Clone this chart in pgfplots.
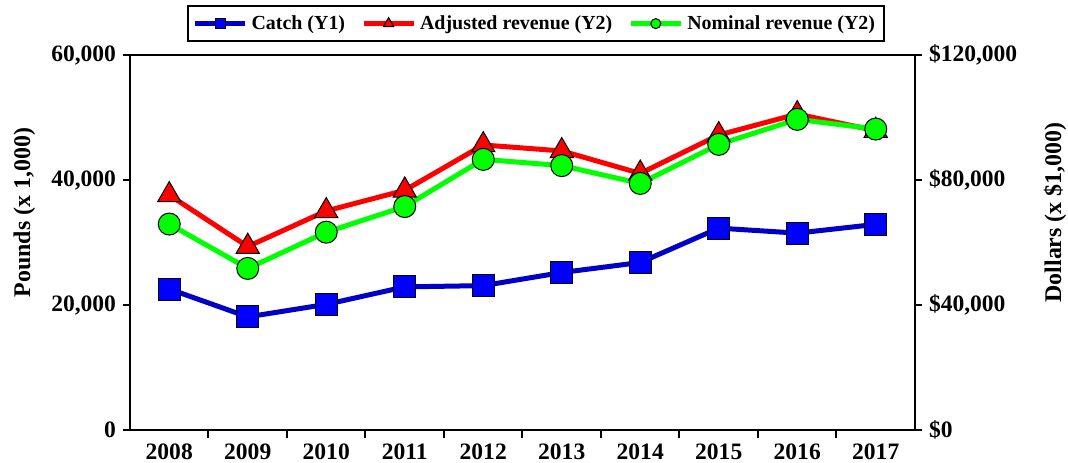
\documentclass[border=0pt]{standalone}
\usepackage{fontspec}
\setmainfont{Liberation Serif}
\usepackage{pgfplots}
\pgfplotsset{compat=1.18}
\definecolor{catchline}{RGB}{0,0,200}
\definecolor{catchfill}{RGB}{0,0,255}
\definecolor{adjred}{RGB}{255,0,0}
\definecolor{nomgreen}{RGB}{0,255,0}
\begin{document}
\begin{tikzpicture}
\path[use as bounding box] (-65bp,-16.5bp) rectangle (469bp,215bp);
\pgfplotsset{
  common/.style={
    width=392.5bp, height=187.5bp, scale only axis,
    xmin=-0.5, xmax=9.5,
    tick align=outside,
    axis line style={line width=1bp, black},
    every tick/.style={line width=1bp, black},
    scaled ticks=false,
    /pgf/number format/.cd, 1000 sep={,}, fixed, assume math mode=true,
    /pgfplots/.cd,
    ticklabel style={font=\bfseries\fontsize{11.8}{13}\selectfont},
    label style={font=\bfseries\fontsize{12}{14}\selectfont},
  },
  legend image code/.code={\draw[mark repeat=2,mark phase=2,#1] plot coordinates {(0bp,0bp)(12.5bp,0bp)(25bp,0bp)};},
}
\begin{axis}[common,
  ymin=0, ymax=60000,
  ytick={0,20000,40000,60000},
  ytick pos=left, xtick pos=bottom,
  xtick={0,...,9},
  xticklabels={2008,2009,2010,2011,2012,2013,2014,2015,2016,2017},
  major x tick style={draw=none},
  minor xtick={0.5,1.5,2.5,3.5,4.5,5.5,6.5,7.5,8.5},
  minor tick length=4bp,
  major tick length=3.5bp,
  ylabel={Pounds (x 1,000)},
  ylabel style={at={(rel axis cs:0,0.58)}, anchor=center, yshift=52.75bp},
  clip=false,
]
\addplot[catchline, line width=2.5bp, mark=square*, mark size=5.5bp,
  mark options={draw=black, fill=catchfill, line width=0.5bp, solid}]
  coordinates {(0,22560) (1,18100) (2,20100) (3,22900) (4,23100) (5,25200) (6,26800) (7,32300) (8,31500) (9,32900)};
\end{axis}
\begin{axis}[common,
  ymin=0, ymax=120000,
  axis x line=none, axis y line*=right,
  ytick={0,40000,80000,120000},
  yticklabel={\$\pgfmathprintnumber{\tick}},
  major tick length=3.5bp,
  ylabel={Dollars (x \$1,000)},
  ylabel style={at={(rel axis cs:1,0.58)}, anchor=center, yshift=-70bp},
  clip=false,
  legend columns=3,
  legend style={at={(rel axis cs:0.517,1)}, anchor=south, yshift=6.5bp,
    draw=black, line width=1bp, inner sep=2.5bp,
    font=\bfseries\fontsize{10}{12}\selectfont,
    /tikz/every even column/.append style={column sep=6bp}},
]
\addlegendimage{catchline, line width=2.5bp, mark=square*, mark size=2.5bp,
  mark options={draw=black, fill=catchfill, line width=0.5bp, solid}}
\addlegendentry{Catch (Y1)}
\addplot[adjred, line width=2.5bp, mark=triangle*, mark size=6.7bp,
  mark options={draw=black, fill=adjred, line width=0.5bp, solid},
  legend image post style={mark size=3bp}]
  coordinates {(0,75200) (1,58700) (2,70100) (3,76700) (4,91200) (5,89300) (6,82100) (7,94400) (8,101100) (9,95800)};
\addlegendentry{Adjusted revenue (Y2)}
\addplot[nomgreen, line width=2.5bp, mark=*, mark size=5.5bp,
  mark options={draw=black, fill=nomgreen, line width=0.5bp, solid},
  legend image post style={mark size=2.5bp}]
  coordinates {(0,65900) (1,51700) (2,63300) (3,71500) (4,86600) (5,84600) (6,78900) (7,91400) (8,99400) (9,96300)};
\addlegendentry{Nominal revenue (Y2)}
\end{axis}
\end{tikzpicture}
\end{document}
